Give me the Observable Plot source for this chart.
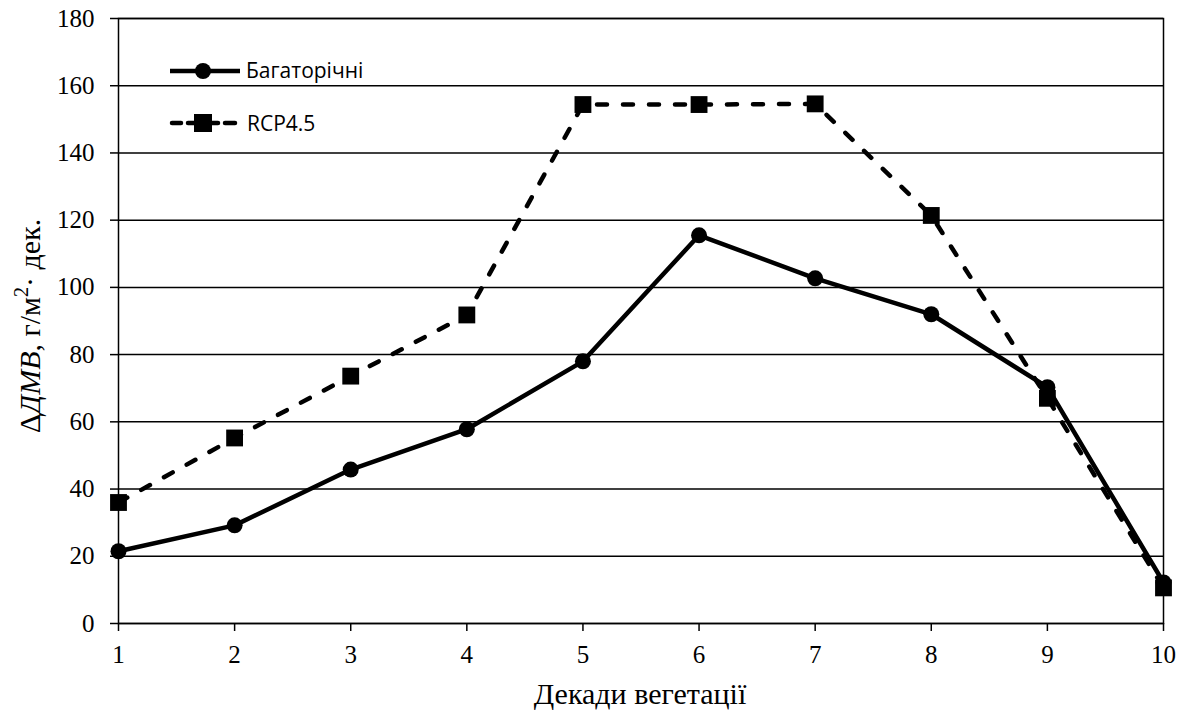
<!DOCTYPE html>
<html>
<head>
<meta charset="utf-8">
<script src="https://cdn.jsdelivr.net/npm/d3@7"></script>
<script src="https://cdn.jsdelivr.net/npm/@observablehq/plot@0.6"></script>
<style>
  html, body { margin: 0; padding: 0; background: #fff; }
  #chart { position: relative; width: 1189px; height: 713px; }
</style>
</head>
<body>
<div id="chart"></div>
<script>
const decades = [1, 2, 3, 4, 5, 6, 7, 8, 9, 10];
const perennial = [21.5, 29.2, 45.8, 57.8, 78.0, 115.5, 102.7, 92.0, 70.3, 12.2];
const rcp45 = [36.0, 55.2, 73.6, 91.8, 154.4, 154.4, 154.6, 121.4, 67.0, 10.6];
const seriesNames = ["Багаторічні", "RCP4.5"];
const yTicks = [0, 20, 40, 60, 80, 100, 120, 140, 160, 180];
const xTicks = [1, 2, 3, 4, 5, 6, 7, 8, 9, 10];
const xTitle = "Декади вегетації";

const d1 = decades.map((d, i) => ({x: d, y: perennial[i]}));
const d2 = decades.map((d, i) => ({x: d, y: rcp45[i]}));

const serif = "'Liberation Serif', 'Times New Roman', serif";
const dash = "10,16";

const plot = Plot.plot({
  width: 1189,
  height: 713,
  marginLeft: 118,
  marginRight: 26,
  marginTop: 18,
  marginBottom: 90,
  style: {fontFamily: serif, background: "#fff", color: "#000"},
  x: {domain: [1, 10]},
  y: {domain: [0, 180]},
  marks: [
    Plot.gridY(yTicks, {stroke: "#000", strokeOpacity: 1, strokeWidth: 1.5}),
    Plot.frame({stroke: "#000", strokeWidth: 1.5}),
    Plot.axisY({ticks: yTicks, tickSize: 8, tickPadding: 16, fontSize: 25, label: null, strokeWidth: 1.5}),
    Plot.axisX({ticks: xTicks, tickSize: 8, tickPadding: 14, fontSize: 25, label: null, strokeWidth: 1.5}),
    Plot.line(d2, {x: "x", y: "y", stroke: "#000", strokeWidth: 4.5, strokeDasharray: dash, strokeLinecap: "round"}),
    Plot.dot(d2, {x: "x", y: "y", symbol: "square", r: 9.5, fill: "#000", stroke: "none"}),
    Plot.line(d1, {x: "x", y: "y", stroke: "#000", strokeWidth: 4.5}),
    Plot.dot(d1, {x: "x", y: "y", r: 8, fill: "#000", stroke: "none"})
  ]
});

document.getElementById("chart").appendChild(plot);

const svg = d3.select(plot);

// X axis title
svg.append("text")
  .attr("x", 640).attr("y", 704)
  .attr("text-anchor", "middle")
  .style("font-family", serif).style("font-size", "30px").attr("fill", "#000")
  .text(xTitle);

// Y axis title
const yt = svg.append("text")
  .attr("transform", "translate(40,326) rotate(-90)")
  .attr("text-anchor", "middle")
  .style("font-family", serif).style("font-size", "30px").attr("fill", "#000");
yt.append("tspan").text("Δ");
yt.append("tspan").style("font-style", "italic").text("ДМВ");
yt.append("tspan").text(", г/м");
yt.append("tspan").attr("dy", -12).style("font-size", "20px").text("2");
yt.append("tspan").attr("dy", 12).text("· дек.");

// Legend
const sans = "'Open Sans', 'Noto Sans', sans-serif";
const lg = svg.append("g").attr("text-anchor", "start");
// perennial
lg.append("line").attr("x1", 170).attr("x2", 240).attr("y1", 71).attr("y2", 71)
  .attr("stroke", "#000").attr("stroke-width", 4.5);
lg.append("circle").attr("cx", 203).attr("cy", 71).attr("r", 8).attr("fill", "#000");
lg.append("text").attr("x", 246).attr("y", 78).attr("text-anchor", "start")
  .style("font-family", sans).style("font-size", "21px").attr("fill", "#000").text(seriesNames[0]);
// rcp
lg.append("line").attr("x1", 172).attr("x2", 181).attr("y1", 123).attr("y2", 123)
  .attr("stroke", "#000").attr("stroke-width", 4.5).attr("stroke-linecap", "round");
lg.append("line").attr("x1", 188).attr("x2", 218).attr("y1", 123).attr("y2", 123)
  .attr("stroke", "#000").attr("stroke-width", 4.5).attr("stroke-linecap", "round");
lg.append("line").attr("x1", 225).attr("x2", 235).attr("y1", 123).attr("y2", 123)
  .attr("stroke", "#000").attr("stroke-width", 4.5).attr("stroke-linecap", "round");
lg.append("rect").attr("x", 194).attr("y", 114).attr("width", 18).attr("height", 18).attr("fill", "#000");
lg.append("text").attr("x", 247).attr("y", 131).attr("text-anchor", "start")
  .style("font-family", sans).style("font-size", "21px").attr("fill", "#000").text(seriesNames[1]);
</script>
</body>
</html>
